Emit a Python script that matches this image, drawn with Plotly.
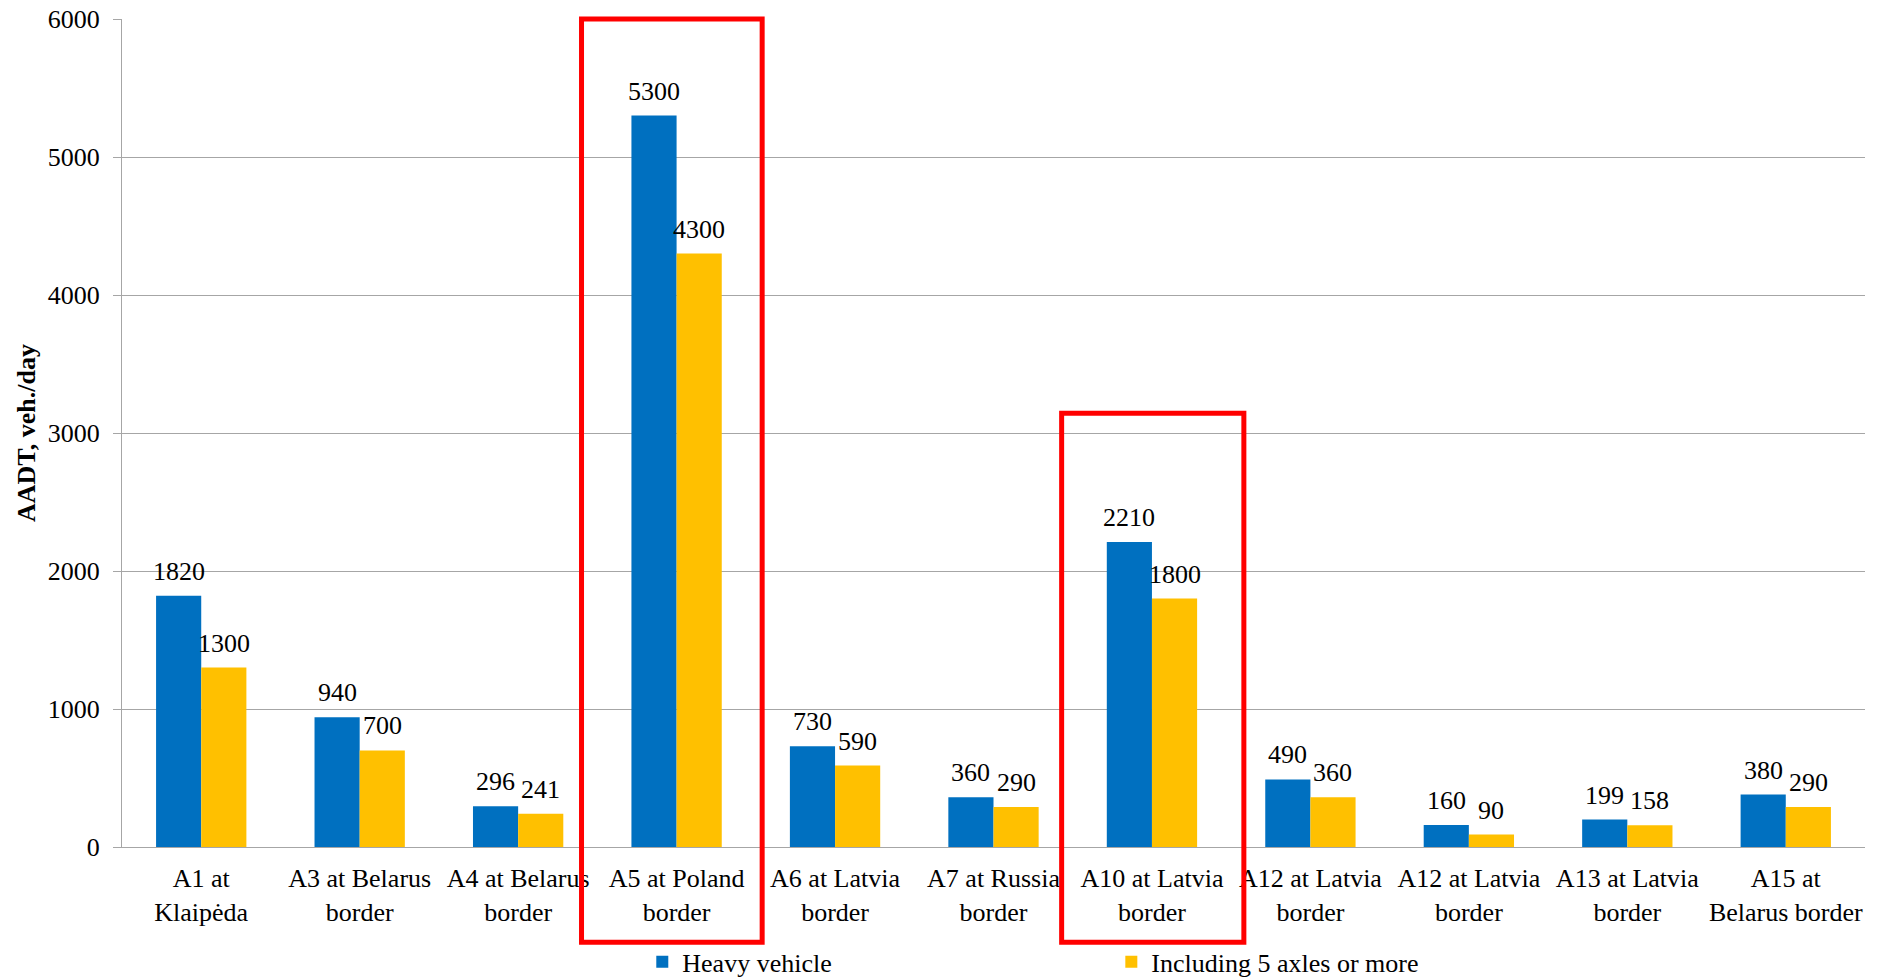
import plotly.graph_objects as go

categories = [
    "A1 at<br>Klaipėda", "A3 at Belarus<br>border", "A4 at Belarus<br>border",
    "A5 at Poland<br>border", "A6 at Latvia<br>border", "A7 at Russia<br>border",
    "A10 at Latvia<br>border", "A12 at Latvia<br>border", "A12 at Latvia<br>border",
    "A13 at Latvia<br>border", "A15 at<br>Belarus border",
]
heavy = [1820, 940, 296, 5300, 730, 360, 2210, 490, 160, 199, 380]
axles5 = [1300, 700, 241, 4300, 590, 290, 1800, 360, 90, 158, 290]
y_ticks = [0, 1000, 2000, 3000, 4000, 5000, 6000]
highlighted = [3, 6]

xs = list(range(len(categories)))
FONT = "Liberation Serif, Times New Roman, serif"
BLUE = "#0070C0"
YELLOW = "#FFC000"
GAP = 0.43
half = (1 - GAP) / 4  # half bar width in category units

fig = go.Figure()
fig.add_trace(go.Bar(x=xs, y=heavy, name="Heavy vehicle", marker_color=BLUE,
                     marker_line_width=0, legend="legend", showlegend=True))
fig.add_trace(go.Bar(x=xs, y=axles5, name="Including 5 axles or more", marker_color=YELLOW,
                     marker_line_width=0, legend="legend2", showlegend=True))

annotations = []
for i, (h, a) in enumerate(zip(heavy, axles5)):
    annotations.append(dict(x=i - half, y=h, xref="x", yref="y", text=str(h), showarrow=False,
                            yanchor="bottom", yshift=8, font=dict(family=FONT, size=26, color="black")))
    annotations.append(dict(x=i + half, y=a, xref="x", yref="y", text=str(a), showarrow=False,
                            yanchor="bottom", yshift=8, font=dict(family=FONT, size=26, color="black")))

shapes = []
box_specs = {3: (-0.60, 0.54, 1.0), 6: (-0.57, 0.58, 0.524)}
for i in highlighted:
    dx0, dx1, top = box_specs[i]
    shapes.append(dict(type="rect", xref="x", yref="paper", x0=i + dx0, x1=i + dx1,
                       y0=-0.115, y1=top, line=dict(color="#FF0000", width=5),
                       fillcolor="rgba(0,0,0,0)", layer="above"))

fig.update_layout(
    width=1877, height=977,
    margin=dict(l=122, r=12, t=19, b=130, autoexpand=False),
    plot_bgcolor="white", paper_bgcolor="white",
    barmode="group", bargap=GAP, bargroupgap=0,
    font=dict(family=FONT, size=26, color="black"),
    annotations=annotations,
    shapes=shapes,
    showlegend=True,
    legend=dict(orientation="h", x=0.2985, xanchor="left", y=0.0154, yref="container",
                yanchor="middle", font=dict(family=FONT, size=26), bgcolor="rgba(0,0,0,0)",
                borderwidth=0),
    legend2=dict(orientation="h", x=0.5676, xanchor="left", y=0.0154, yref="container",
                 yanchor="middle", font=dict(family=FONT, size=26), bgcolor="rgba(0,0,0,0)",
                 borderwidth=0),
    xaxis=dict(tickmode="array", tickvals=xs, ticktext=categories, range=[-0.5, len(xs) - 0.5],
               showline=True, linecolor="#A6A6A6", linewidth=1, ticks="", showgrid=False,
               tickfont=dict(family=FONT, size=26), tickangle=0, ticklabelstandoff=8,
               automargin=False),
    yaxis=dict(range=[0, 6000], tickvals=y_ticks, showgrid=True, gridcolor="#A6A6A6", gridwidth=1,
               showline=True, linecolor="#A6A6A6", linewidth=1, ticks="outside", ticklen=8,
               tickcolor="#A6A6A6", tickfont=dict(family=FONT, size=26), ticklabelstandoff=8,
               zeroline=False, automargin=False,
               title=dict(text="<b>AADT, veh./day</b>", font=dict(family=FONT, size=26), standoff=4)),
)

fig.write_html("out.html")
